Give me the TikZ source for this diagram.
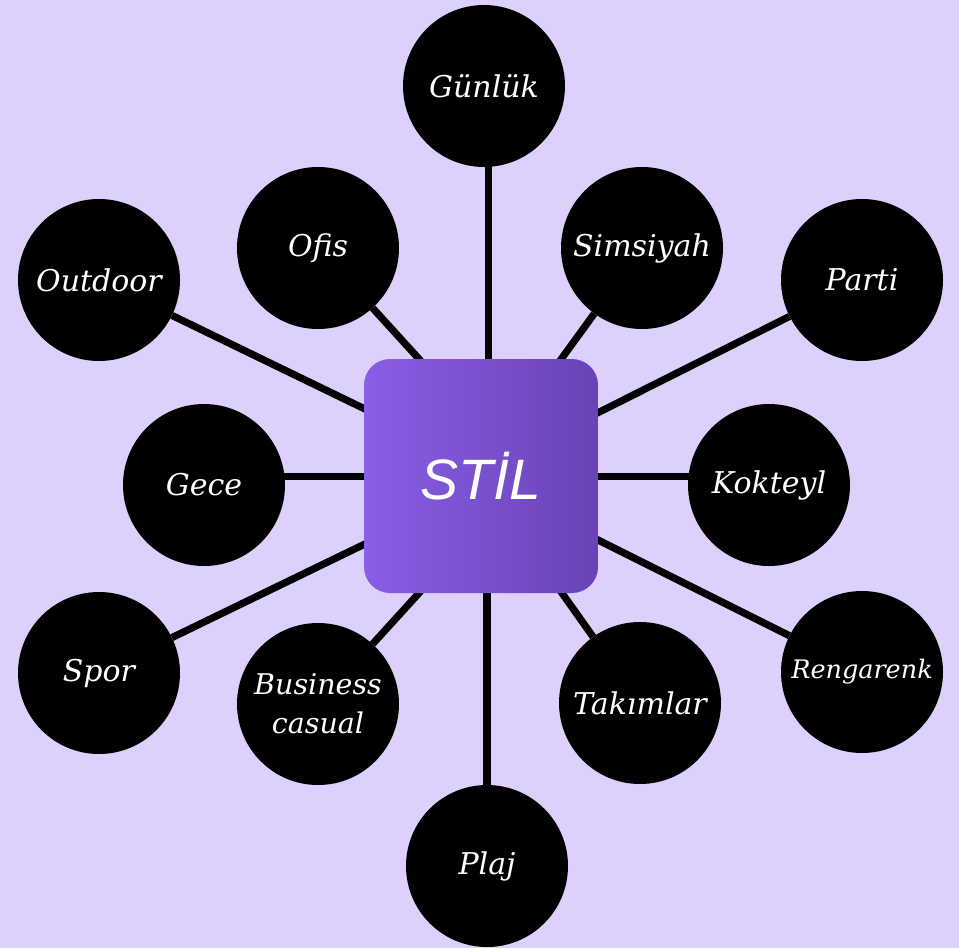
\documentclass[tikz,border=0pt]{standalone}
\usepackage{fontspec}
\setmainfont{DejaVu Serif}
\newfontfamily\ctrfont{Liberation Sans}
\definecolor{bgc}{RGB}{221,208,252}
\definecolor{gradl}{RGB}{138,94,230}
\definecolor{gradr}{RGB}{104,67,182}
\pgfdeclarelayer{bgl}
\pgfdeclarelayer{lnl}
\pgfsetlayers{bgl,lnl,main}
\begin{document}
\begin{tikzpicture}[x=1pt,y=-1pt,
  circ/.style={circle,fill=black,minimum size=162pt,inner sep=0pt,text=white,
    font=\itshape\fontsize{30}{32}\selectfont,align=center},
  conn/.style={line width=7.2pt,black}]
\begin{pgfonlayer}{bgl}
\fill[bgc] (0,0) rectangle (959,948);
\end{pgfonlayer}
\useasboundingbox (0,0) rectangle (959,948);

\node[rounded corners=26pt,left color=gradl,right color=gradr,minimum size=234pt,inner sep=0pt,
  text=white,font=\ctrfont\itshape\fontsize{57}{60}\selectfont] (ctr) at (481,476) {STİL};

\node[circ] (gun) at (484,86) {Günlük};
\node[circ] (ofi) at (318,248) {Ofis};
\node[circ] (sim) at (642,248) {Simsiyah};
\node[circ] (out) at (99,280) {Outdoor};
\node[circ] (par) at (862,280) {Parti};
\node[circ] (gec) at (204,485) {Gece};
\node[circ] (kok) at (769,485) {Kokteyl};
\node[circ] (spo) at (99,673) {Spor};
\node[circ,font=\itshape\fontsize{25.5}{30}\selectfont] (ren) at (862,672) {Rengarenk};
\node[circ,font=\itshape\fontsize{28.5}{39}\selectfont] (bus) at (318,704) {Business\\casual};
\node[circ] (tak) at (640,703) {Takımlar};
\node[circ] (pla) at (487,866) {Plaj};

\coordinate (tgun) at (488.5,470);
\coordinate (tofi) at (460,404);
\coordinate (tsim) at (530,402);
\coordinate (tout) at (470,460);
\coordinate (tpar) at (490,467);
\coordinate (tgec) at (470,476.5);
\coordinate (tkok) at (490,476.5);
\coordinate (tspo) at (470,493);
\coordinate (tren) at (490,486);
\coordinate (tbus) at (460,548);
\coordinate (ttak) at (530,548);
\coordinate (tpla) at (487,480);
\coordinate (sgun) at (488.5,86);
\coordinate (sgec) at (204,476.5);
\coordinate (skok) at (769,476.5);

\begin{pgfonlayer}{lnl}
\draw[conn] (sgun) -- (tgun);
\draw[conn] (ofi) -- (tofi);
\draw[conn] (sim) -- (tsim);
\draw[conn] (out) -- (tout);
\draw[conn] (par) -- (tpar);
\draw[conn] (sgec) -- (tgec);
\draw[conn] (skok) -- (tkok);
\draw[conn] (spo) -- (tspo);
\draw[conn] (ren) -- (tren);
\draw[conn] (bus) -- (tbus);
\draw[conn] (tak) -- (ttak);
\draw[conn] (pla) -- (tpla);
\end{pgfonlayer}
\end{tikzpicture}
\end{document}
